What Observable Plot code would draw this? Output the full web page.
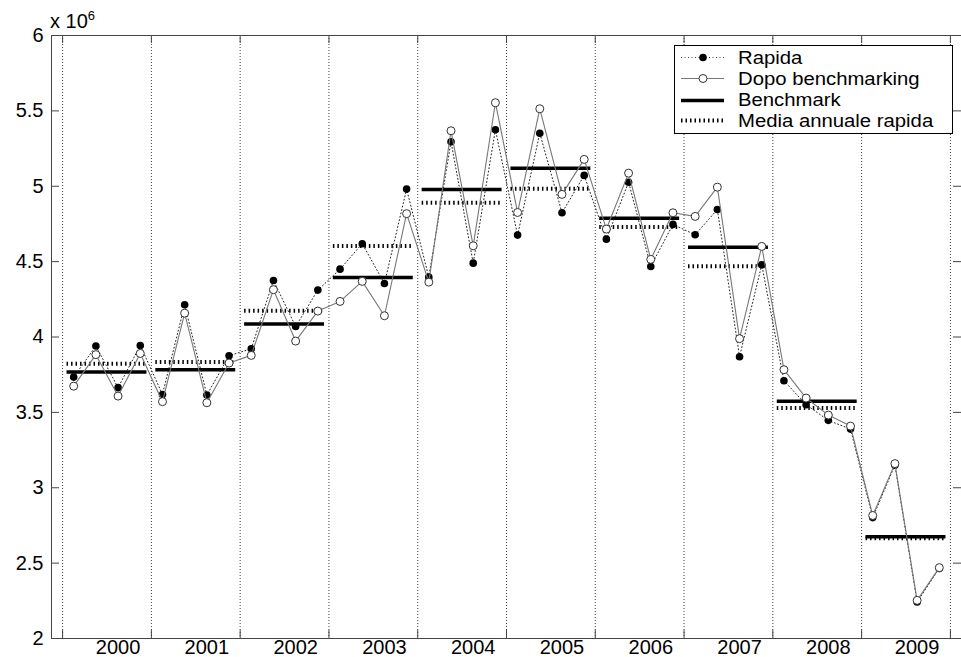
<!DOCTYPE html>
<html>
<head>
<meta charset="utf-8">
<script src="https://cdn.jsdelivr.net/npm/d3@7"></script>
<script src="https://cdn.jsdelivr.net/npm/@observablehq/plot@0.6"></script>
<style>
  body { margin: 0; background: #fff; font-family: "Liberation Sans", Arial, sans-serif; }
  #wrap { position: relative; width: 961px; height: 657px; overflow: hidden; }
  #mult { position: absolute; left: 50px; top: 12px; font-size: 20px; line-height: 19px; white-space: nowrap; }
  #mult span { position: relative; top: -8px; font-size: 13px; }
  #legend { position: absolute; left: 674px; top: 45px; width: 279px; height: 89px; border: 1px solid #000; background: #fff; box-sizing: border-box; }
  .row { position: absolute; left: 0; height: 21px; width: 277px; }
  .row svg { position: absolute; left: 4px; top: 0; }
  .row .lab { position: absolute; left: 63px; top: 0; height: 20px; line-height: 20px; font-size: 18.3px; white-space: nowrap; transform: scaleX(1.11); transform-origin: 0 50%; }
</style>
</head>
<body>
<div id="wrap">
  <div id="chart"></div>
  <div id="mult">x 10<span>6</span></div>
  <div id="legend"></div>
</div>
<script>
// ---- data ----
const years = ["2000","2001","2002","2003","2004","2005","2006","2007","2008","2009"];
const seriesNames = ["Rapida", "Dopo benchmarking", "Benchmark", "Media annuale rapida"];
// quarterly values, x 10^6
const rapida = [
  3.734, 3.940, 3.664, 3.944,
  3.619, 4.214, 3.615, 3.876,
  3.922, 4.375, 4.070, 4.311,
  4.450, 4.619, 4.355, 4.981,
  4.397, 5.295, 4.490, 5.375,
  4.676, 5.352, 4.824, 5.072,
  4.649, 5.027, 4.468, 4.747,
  4.678, 4.846, 3.869, 4.479,
  3.710, 3.551, 3.447, 3.389,
  2.802, 3.150, 2.242, 2.465
];
const dopoBenchmarking = [
  3.674, 3.883, 3.608, 3.891,
  3.571, 4.158, 3.564, 3.827,
  3.878, 4.314, 3.973, 4.172,
  4.236, 4.369, 4.141, 4.818,
  4.364, 5.368, 4.605, 5.554,
  4.826, 5.514, 4.946, 5.178,
  4.716, 5.087, 4.515, 4.824,
  4.800, 4.994, 3.989, 4.601,
  3.783, 3.595, 3.482, 3.409,
  2.816, 3.160, 2.253, 2.470
];
// annual values
const benchmark = [3.767, 3.783, 4.086, 4.395, 4.979, 5.120, 4.788, 4.596, 3.573, 2.675];
const mediaAnnualeRapida = [3.823, 3.834, 4.174, 4.603, 4.891, 4.983, 4.729, 4.470, 3.529, 2.665];
const yTicks = [2, 2.5, 3, 3.5, 4, 4.5, 5, 5.5, 6];

// ---- tables for Plot ----
const rapidaData = rapida.map((v, i) => ({q: i + 1, v}));
const dopoData = dopoBenchmarking.map((v, i) => ({q: i + 1, v}));
const benchData = benchmark.map((v, k) => ({k, v}));
const mediaData = mediaAnnualeRapida.map((v, k) => ({k, v}));
const yearBounds = years.map((_, k) => 4 * k + 0.5).concat([4 * years.length + 0.5]);
const yearLabelPos = years.map((_, k) => 4 * k + 3);

const W = 961, H = 657, mL = 51, mR = 0, mT = 35, mB = 19;
const frameW = W - mL - mR, frameH = H - mT - mB, tick = 8;

const chart = Plot.plot({
  width: W, height: H,
  marginLeft: mL, marginRight: mR, marginTop: mT, marginBottom: mB,
  style: {fontSize: "20px", fontFamily: "'Liberation Sans', Arial, sans-serif", color: "#000", background: "transparent"},
  x: {domain: [0, 41], label: null},
  y: {domain: [2, 6], label: null},
  marks: [
    // dotted year grid
    Plot.ruleX(yearBounds, {x: d => d, stroke: "#000", strokeWidth: 1, strokeDasharray: "1,2", strokeOpacity: 0.75}),
    // inward tick marks
    Plot.ruleX(yearBounds, {x: d => d, insetBottom: frameH - tick, stroke: "#444"}),
    Plot.ruleX(yearBounds, {x: d => d, insetTop: frameH - tick, stroke: "#444"}),
    Plot.ruleY(yTicks, {y: d => d, insetRight: frameW - tick, stroke: "#444"}),
    Plot.ruleY(yTicks, {y: d => d, insetLeft: frameW - tick, stroke: "#444"}),
    // annual lines
    Plot.ruleY(benchData, {y: "v", x1: d => 4 * d.k + 0.7, x2: d => 4 * d.k + 4.3, stroke: "#000", strokeWidth: 3.5}),
    Plot.ruleY(mediaData, {y: "v", x1: d => 4 * d.k + 0.7, x2: d => 4 * d.k + 4.3, stroke: "#000", strokeWidth: 4, strokeDasharray: "1.5,3"}),
    // Rapida
    Plot.line(rapidaData, {x: "q", y: "v", stroke: "#222", strokeWidth: 1, strokeDasharray: "1,2.5"}),
    Plot.dot(rapidaData, {x: "q", y: "v", r: 3.8, fill: "#000", stroke: "none"}),
    // Dopo benchmarking
    Plot.line(dopoData, {x: "q", y: "v", stroke: "#777", strokeWidth: 1.1}),
    Plot.dot(dopoData, {x: "q", y: "v", r: 4, fill: "#fff", stroke: "#333", strokeWidth: 1}),
    // axes
    Plot.axisY({ticks: yTicks, tickSize: 0, tickPadding: 8, tickFormat: d => String(d)}),
    Plot.axisX({ticks: yearLabelPos, tickSize: 0, tickPadding: 1, tickFormat: t => years[(t - 3) / 4]}),
    Plot.frame({stroke: "#444"})
  ]
});
document.getElementById("chart").appendChild(chart);

// ---- legend ----
const legend = document.getElementById("legend");
const rowCenters = [12.5, 33.5, 55, 75.5];
const samples = [
  `<line x1="2" x2="45" y1="10.5" y2="10.5" stroke="#444" stroke-width="1" stroke-dasharray="1,2.5"/><circle cx="24" cy="10.5" r="3.8" fill="#000"/>`,
  `<line x1="2" x2="45" y1="10.5" y2="10.5" stroke="#777" stroke-width="1.1"/><circle cx="24" cy="10.5" r="4" fill="#fff" stroke="#333"/>`,
  `<line x1="2" x2="45" y1="10.5" y2="10.5" stroke="#000" stroke-width="3.5"/>`,
  `<line x1="2" x2="45" y1="10.5" y2="10.5" stroke="#000" stroke-width="4" stroke-dasharray="1.5,3"/>`
];
seriesNames.forEach((name, i) => {
  const row = document.createElement("div");
  row.className = "row";
  row.style.top = (rowCenters[i] - 11.5) + "px";
  row.innerHTML = `<svg width="48" height="21">${samples[i]}</svg><span class="lab" style="top:0.5px">${name}</span>`;
  legend.appendChild(row);
});
</script>
</body>
</html>
